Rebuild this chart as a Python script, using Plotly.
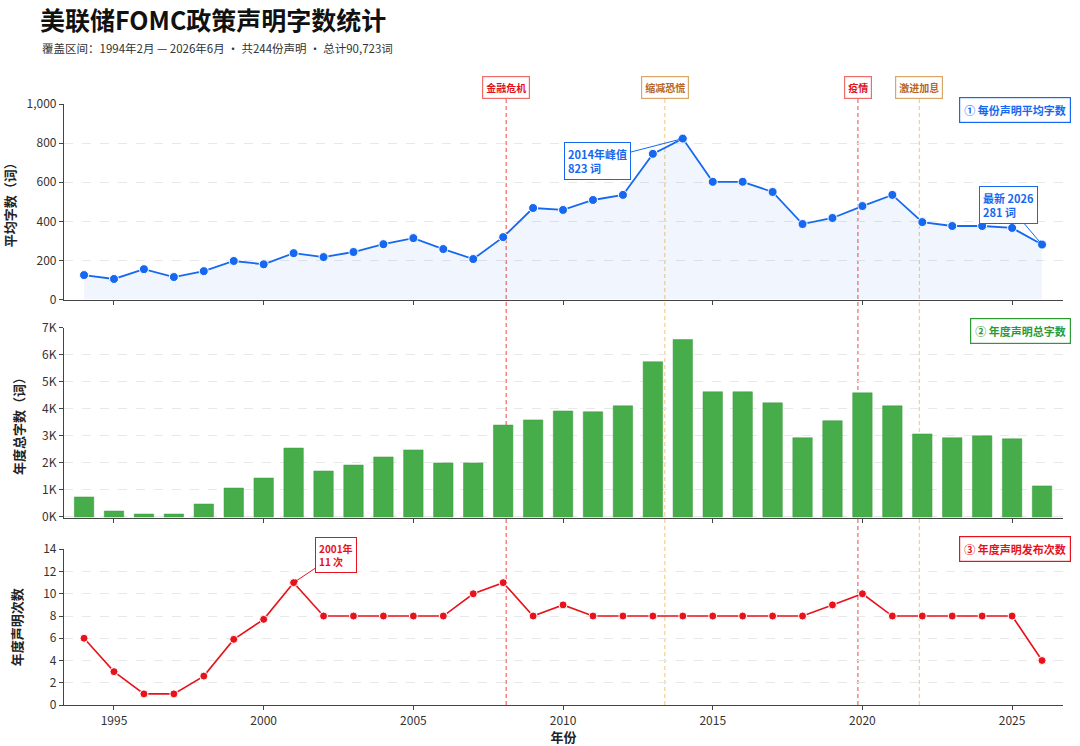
import plotly.graph_objects as go

years = list(range(1994, 2027))
avg_words = [125, 105, 155, 115, 145, 197, 180, 237, 217, 243, 283, 314, 258, 207, 319,
             468, 458, 509, 535, 745, 823, 602, 602, 550, 386, 417, 478, 535, 396, 376,
             376, 366, 281]
total_words = [740, 220, 110, 110, 480, 1070, 1440, 2550, 1700, 1920, 2220, 2480, 2000, 2000,
               3400, 3590, 3920, 3890, 4110, 5740, 6560, 4630, 4630, 4220, 2930, 3560, 4590,
               4110, 3070, 2930, 3000, 2890, 1150]
counts = [6, 3, 1, 1, 2.6, 5.9, 7.7, 11, 8, 8, 8, 8, 8, 10, 11, 8, 9, 8, 8, 8, 8, 8, 8, 8,
          8, 9, 10, 8, 8, 8, 8, 8, 4]

event_names = ["金融危机", "缩减恐慌", "疫情", "激进加息"]
event_x = [2008.1, 2013.4, 2019.85, 2021.9]
event_kind = ["red", "orange", "red", "orange"]

x_ticks = [1995, 2000, 2005, 2010, 2015, 2020, 2025]
avg_ticks = [0, 200, 400, 600, 800, 1000]
avg_ticktext = ["0", "200", "400", "600", "800", "1,000"]
tot_ticks = [0, 1000, 2000, 3000, 4000, 5000, 6000, 7000]
tot_ticktext = ["0K", "1K", "2K", "3K", "4K", "5K", "6K", "7K"]
cnt_ticks = [0, 2, 4, 6, 8, 10, 12, 14]

BLUE = "#1668f0"
GREEN = "#46ad4a"
RED = "#e8121c"
FONT = "Noto Sans CJK SC"

fig = go.Figure()

fig.add_trace(go.Scatter(
    x=years, y=avg_words, mode="lines+markers", xaxis="x", yaxis="y",
    line=dict(color=BLUE, width=1.8),
    marker=dict(size=9, color=BLUE, line=dict(color="white", width=1)),
    fill="tozeroy", fillcolor="rgba(22,104,240,0.06)", showlegend=False))

fig.add_trace(go.Bar(
    x=years, y=total_words, xaxis="x2", yaxis="y2",
    marker=dict(color=GREEN, line=dict(color="#3c9a40", width=0.5)),
    width=0.65, showlegend=False))

fig.add_trace(go.Scatter(
    x=years, y=counts, mode="lines+markers", xaxis="x3", yaxis="y3",
    line=dict(color=RED, width=1.6),
    marker=dict(size=8, color=RED, line=dict(color="white", width=1)),
    showlegend=False))

xr = [1993.33, 2026.7]
axis_common = dict(range=xr, tickvals=x_ticks, showline=True, linecolor="#444",
                   linewidth=1.2, ticks="outside", ticklen=4, tickcolor="#444",
                   showgrid=False, zeroline=False, automargin=False,
                   tickfont=dict(family=FONT, size=12, color="#333"))
ycommon = dict(showline=True, linecolor="#444", linewidth=1.2, ticks="outside",
               ticklen=4, tickcolor="#444", showgrid=True, gridcolor="#e8e8e8",
               griddash="dash", gridwidth=1, zeroline=False, automargin=False,
               tickfont=dict(family=FONT, size=12, color="#333"),
               title_font=dict(family=FONT, size=13, color="#222"))

top_d = [0.6747, 1.0]
mid_d = [0.3106, 0.6278]
bot_d = [0.0, 0.2591]

fig.update_layout(
    width=1080, height=746,
    margin=dict(l=64, r=17, t=104, b=41, autoexpand=False),
    paper_bgcolor="white", plot_bgcolor="white",
    font=dict(family=FONT, color="#222"),
    bargap=0.3,
    xaxis=dict(axis_common, anchor="y", showticklabels=False),
    xaxis2=dict(axis_common, anchor="y2", showticklabels=False, matches="x"),
    xaxis3=dict(axis_common, anchor="y3", matches="x",
                title=dict(text="<b>年份</b>", font=dict(family=FONT, size=13, color="#222"),
                           standoff=2)),
    yaxis=dict(ycommon, domain=top_d, range=[0, 1000], tickvals=avg_ticks,
               ticktext=avg_ticktext, anchor="x",
               title=dict(text="<b>平均字数（词）</b>", standoff=10)),
    yaxis2=dict(ycommon, domain=mid_d, range=[-50, 7000], tickvals=tot_ticks,
                ticktext=tot_ticktext, anchor="x2",
                title=dict(text="<b>年度总字数（词）</b>", standoff=14)),
    yaxis3=dict(ycommon, domain=bot_d, range=[0, 14], tickvals=cnt_ticks, anchor="x3",
                title=dict(text="<b>年度声明次数</b>", standoff=17)),
    title=dict(text="<b>美联储FOMC政策声明字数统计</b>", x=40 / 1080, xanchor="left",
               y=1 - 21 / 746, yanchor="middle",
               font=dict(family=FONT, size=25, color="#111")),
)

annotations = []
shapes = []

# subtitle
annotations.append(dict(
    text="覆盖区间：1994年2月 — 2026年6月 · 共244份声明 · 总计90,723词",
    xref="paper", yref="paper", x=(40 - 64) / 999, y=(705 - 48) / 601,
    xanchor="left", yanchor="middle", showarrow=False,
    font=dict(family=FONT, size=11.5, color="#333")))

# event lines and labels
line_top = (705 - 97) / 601
for name, ex, kind in zip(event_names, event_x, event_kind):
    if kind == "red":
        lc, tc, bc = "rgba(235,40,40,0.85)", "#e0141c", "#f26a6a"
    else:
        lc, tc, bc = "rgba(245,180,90,0.8)", "#b8661e", "#d9a767"
    shapes.append(dict(type="line", xref="x", yref="paper", x0=ex, x1=ex,
                       y0=0, y1=line_top, line=dict(color=lc, width=1, dash="4px,3px"),
                       layer="below"))
    annotations.append(dict(
        text=f"<b>{name}</b>", xref="x", yref="paper", x=ex, y=(705 - 87) / 601,
        xanchor="center", yanchor="middle", showarrow=False,
        font=dict(family=FONT, size=10, color=tc),
        bgcolor="white", bordercolor=bc, borderwidth=1.2, borderpad=3))

# panel labels
for txt, col, ypix in [("① 每份声明平均字数", BLUE, 110),
                       ("② 年度声明总字数", "#2e9a33", 331),
                       ("③ 年度声明发布次数", RED, 549)]:
    annotations.append(dict(
        text=f"<b>{txt}</b>", xref="paper", yref="paper",
        x=(1071 - 64) / 999, y=(705 - ypix) / 601, xanchor="right", yanchor="middle",
        showarrow=False, font=dict(family=FONT, size=11, color=col),
        bgcolor="white", bordercolor=col, borderwidth=1.2, borderpad=4))

# callouts
annotations.append(dict(
    text="<b>2014年峰值<br>823 词</b>", x=2014, y=823, xref="x", yref="y",
    ax=-85, ay=22, showarrow=True, arrowhead=2, arrowsize=0.8, arrowwidth=1,
    arrowcolor=BLUE, align="left", font=dict(family=FONT, size=11, color=BLUE),
    bgcolor="white", bordercolor=BLUE, borderwidth=1, borderpad=3))
annotations.append(dict(
    text="<b>最新 2026<br>281 词</b>", x=2026, y=281, xref="x", yref="y",
    ax=-34, ay=-40, showarrow=True, arrowhead=2, arrowsize=0.8, arrowwidth=1,
    arrowcolor=BLUE, align="left", font=dict(family=FONT, size=11, color=BLUE),
    bgcolor="white", bordercolor=BLUE, borderwidth=1, borderpad=3))
annotations.append(dict(
    text="<b>2001年<br>11 次</b>", x=2001, y=11, xref="x3", yref="y3",
    ax=42, ay=-28, showarrow=True, arrowhead=2, arrowsize=0.8, arrowwidth=1,
    arrowcolor=RED, align="left", font=dict(family=FONT, size=10, color=RED),
    bgcolor="white", bordercolor=RED, borderwidth=1, borderpad=3))

fig.update_layout(annotations=annotations, shapes=shapes)
fig.write_html("out.html")
